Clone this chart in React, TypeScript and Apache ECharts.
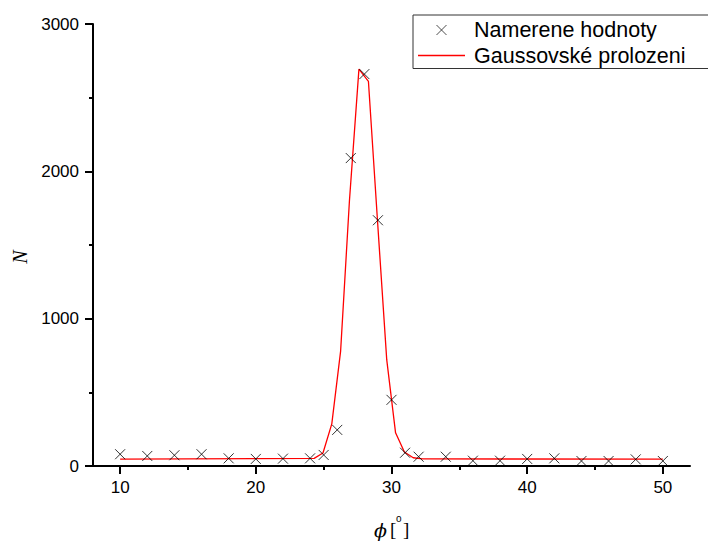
import React, { useEffect, useRef } from 'react';
import * as echarts from 'echarts';

// Measured points (phi in degrees, counts N)
const measuredPhi = [10, 12, 14, 16, 18, 20, 22, 24, 25, 26, 27, 28, 29, 30, 31, 32, 34, 36, 38, 40, 42, 44, 46, 48, 50];
const measuredN = [80, 68, 73, 80, 52, 48, 50, 52, 75, 245, 2090, 2660, 1668, 449, 90, 63, 63, 36, 36, 48, 52, 34, 34, 45, 34];

// Gaussian fit curve vertices
const fitPhi = [10, 24.3, 24.95, 25.6, 26.25, 26.9, 27.6, 28.3, 28.95, 29.65, 30.3, 30.95, 31.6, 32.3, 50];
const fitN = [47, 52, 88, 286, 780, 1800, 2694, 2610, 1690, 720, 225, 95, 56, 48, 47];

const xMajorTicks = [10, 20, 30, 40, 50];
const xMinorTicks = [15, 25, 35, 45];
const seriesNames = ['Namerene hodnoty', 'Gaussovské prolozeni'];

export default function App() {
  const ref = useRef<HTMLDivElement>(null);
  useEffect(() => {
    const chart = echarts.init(ref.current as HTMLDivElement, null, { renderer: 'svg' });
    const sans = '"Liberation Sans", Arial, sans-serif';
    const black = '#000';
    const red = '#ff0000';
    chart.setOption({
      animation: false,
      backgroundColor: '#fff',
      grid: { left: 93, right: 18, top: 24, bottom: 75, containLabel: false },
      legend: {
        orient: 'vertical',
        left: 413,
        top: 15,
        padding: [4, 24, 2, 5],
        itemWidth: 47,
        itemHeight: 10,
        itemGap: 3.5,
        borderColor: '#333',
        borderWidth: 1,
        borderRadius: 0,
        backgroundColor: '#fff',
        textStyle: { fontSize: 21.5, color: black, fontFamily: sans, padding: [0, 0, 0, 4] },
        data: [
          {
            name: seriesNames[0],
            itemStyle: { color: 'rgba(0,0,0,0)', borderColor: '#222', borderWidth: 1 },
          },
          {
            name: seriesNames[1],
            icon: 'path://M0,0L47,0L47,1.3L0,1.3Z',
            itemStyle: { color: red, borderWidth: 0 },
          },
        ],
      },
      xAxis: [
        {
          type: 'value',
          min: 8,
          max: 52,
          axisLine: { show: true, onZero: false, lineStyle: { color: black, width: 2 } },
          axisTick: { show: true, length: 8, customValues: xMajorTicks, lineStyle: { color: black, width: 2 } },
          axisLabel: { show: true, customValues: xMajorTicks, color: black, fontSize: 17, fontFamily: sans, margin: 13 },
          splitLine: { show: false },
        },
        {
          type: 'value',
          min: 8,
          max: 52,
          position: 'bottom',
          axisLine: { show: false, onZero: false },
          axisTick: { show: true, length: 4, customValues: xMinorTicks, lineStyle: { color: black, width: 2 } },
          axisLabel: { show: false },
          splitLine: { show: false },
        },
      ],
      yAxis: {
        type: 'value',
        min: 0,
        max: 3000,
        interval: 1000,
        axisLine: { show: true, onZero: false, lineStyle: { color: black, width: 2 } },
        axisTick: { show: true, length: 8, lineStyle: { color: black, width: 2 } },
        minorTick: { show: true, splitNumber: 2, length: 4, lineStyle: { color: black, width: 2 } },
        minorSplitLine: { show: false },
        axisLabel: {
          color: black,
          fontSize: 17,
          fontFamily: sans,
          margin: 14,
          formatter: (v: number) => String(v),
        },
        splitLine: { show: false },
      },
      graphic: [
        {
          type: 'text',
          x: 20,
          y: 257,
          rotation: Math.PI / 2,
          style: {
            text: 'N',
            font: 'italic 20px "Liberation Serif", "Times New Roman", serif',
            fill: black,
            align: 'center',
            verticalAlign: 'middle',
            textAlign: 'center',
            textVerticalAlign: 'middle',
          },
        },
        {
          type: 'text',
          x: 374,
          y: 530,
          style: {
            text: 'ϕ',
            font: 'italic 19px "DejaVu Serif", serif',
            fill: black,
            align: 'left',
            verticalAlign: 'middle',
            textAlign: 'left',
            textVerticalAlign: 'middle',
          },
        },
        {
          type: 'text',
          x: 390,
          y: 529,
          style: {
            text: '[',
            font: '19px "Liberation Serif", serif',
            fill: black,
            align: 'left',
            verticalAlign: 'middle',
            textAlign: 'left',
            textVerticalAlign: 'middle',
          },
        },
        {
          type: 'text',
          x: 396,
          y: 518,
          style: {
            text: 'o',
            font: '10px "Liberation Sans", sans-serif',
            fill: black,
            align: 'left',
            verticalAlign: 'middle',
            textAlign: 'left',
            textVerticalAlign: 'middle',
          },
        },
        {
          type: 'text',
          x: 403,
          y: 529,
          style: {
            text: ']',
            font: '19px "Liberation Serif", serif',
            fill: black,
            align: 'left',
            verticalAlign: 'middle',
            textAlign: 'left',
            textVerticalAlign: 'middle',
          },
        },
      ],
      series: [
        {
          name: seriesNames[0],
          type: 'scatter',
          xAxisIndex: 0,
          data: measuredPhi.map((x, i) => [x, measuredN[i]]),
          symbol: 'path://M0,0L10,10M10,0L0,10',
          symbolSize: 10,
          itemStyle: { color: 'rgba(0,0,0,0)', borderColor: black, borderWidth: 1 },
          z: 3,
        },
        {
          name: seriesNames[1],
          type: 'line',
          xAxisIndex: 0,
          data: fitPhi.map((x, i) => [x, fitN[i]]),
          symbol: 'none',
          showSymbol: false,
          lineStyle: { color: red, width: 1.3 },
          itemStyle: { color: red },
          z: 2,
        },
      ],
    });
    return () => chart.dispose();
  }, []);
  return <div ref={ref} style={{ position: 'fixed', left: 0, top: 0, width: 708, height: 541 }} />;
}
